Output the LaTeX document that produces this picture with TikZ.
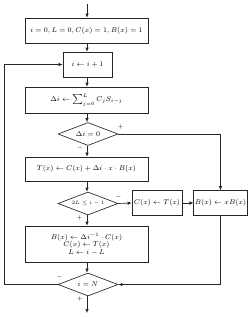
\documentclass[tikz,border=0pt]{standalone}
\usetikzlibrary{shapes.geometric,arrows.meta}
\begin{document}
\begin{tikzpicture}[x=1pt,y=-1pt,
  every node/.style={font=\fontsize{7}{8.5}\selectfont},
  blk/.style={draw=black!85,line width=0.65pt,rectangle,inner sep=1pt,align=center},
  dia/.style={draw=black!85,line width=0.65pt,diamond,inner sep=0pt,minimum width=60pt,minimum height=23pt,aspect=2.6},
  conn/.style={draw=black!85,line width=0.65pt,-{Latex[length=4pt,width=3.5pt]}},
  lab/.style={font=\fontsize{6}{7}\selectfont,inner sep=0pt}]
\useasboundingbox (0,0) rectangle (250,317);
\node[blk,minimum width=123pt,minimum height=25pt] (b1) at (86.5,30.5) {$i=0, L=0, C(x)=1, B(x)=1$};
\node[blk,minimum width=49pt,minimum height=25pt] (b2) at (87.5,64.5) {$i\leftarrow i+1$};
\node[blk,minimum width=123pt,minimum height=26pt] (b3) at (86.5,100) {$\Delta i\leftarrow \textstyle\sum_{j=0}^{L} C_j S_{i-j}$};
\node[dia] (d1) at (88,134) {$\Delta i=0$};
\node[blk,minimum width=123pt,minimum height=24pt] (b4) at (86.5,169) {$T(x)\leftarrow C(x)+\Delta i\cdot x\cdot B(x)$};
\node[dia] (d2) at (88,203.5) {\fontsize{5.5}{6}\selectfont$2L\le i-1$};
\node[blk,minimum width=50pt,minimum height=25pt] (bc) at (157,203) {$C(x)\leftarrow T(x)$};
\node[blk,minimum width=52pt,minimum height=25pt] (bb) at (220.5,203) {$B(x)\leftarrow xB(x)$};
\node[blk,minimum width=123pt,minimum height=36pt] (b5) at (86.5,244) {$B(x)\leftarrow \Delta i^{-1}\cdot C(x)$\\[-1pt]$C(x)\leftarrow T(x)$\\[-1pt]$L\leftarrow i-L$};
\node[dia] (d3) at (88,284.5) {$i=N$};
\coordinate (top) at (87,4);
\coordinate (bot) at (88,313);
\coordinate (lt) at (4.5,284.5);
\coordinate (lb) at (4.5,64.5);
\draw[conn] (top) -- (b1.north -| top);
\draw[conn] (b1.south -| top) -- (b2.north -| top);
\draw[conn] (b2.south -| top) -- (b3.north -| top);
\draw[conn] (b3.south -| top) -- (d1.north -| top);
\draw[conn] (d1.south -| top) -- (b4.north -| top);
\draw[conn] (b4.south -| top) -- (d2.north -| top);
\draw[conn] (d2.south -| top) -- (b5.north -| top);
\draw[conn] (b5.south -| top) -- (d3.north -| top);
\draw[conn] (d3.south -| top) -- (bot -| top);
\draw[conn] (d1.east) -| (bb.north);
\draw[conn] (d2.east) -- (bc.west);
\draw[conn] (bc.east) -- (bb.west);
\draw[conn] (bb.south) |- (d3.east);
\draw[conn] (d3.west) -- (lt) -- (lb) -- (b2.west);
\node[lab] at (120.5,127) {$+$};
\node[lab] at (80,148) {$-$};
\node[lab] at (118.5,196.5) {$-$};
\node[lab] at (79.5,218) {$+$};
\node[lab] at (59.5,276.5) {$-$};
\node[lab] at (80,298.5) {$+$};
\end{tikzpicture}
\end{document}
